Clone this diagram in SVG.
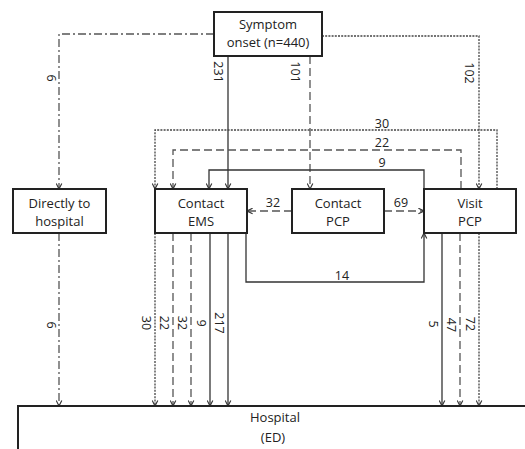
<svg xmlns="http://www.w3.org/2000/svg" width="525" height="449" viewBox="0 0 525 449">
<defs>
<style>
.box{fill:#fff;stroke:#222;stroke-width:2}
.t{font-family:"Open Sans","Noto Sans",sans-serif;font-size:13px;fill:#222;text-anchor:middle}
.n{font-family:"Open Sans","Noto Sans",sans-serif;font-size:12.5px;fill:#222;text-anchor:middle}
.c{fill:none;stroke:#333;stroke-width:1.3}
.solid{}
.dash{stroke:#555;stroke-dasharray:8,4}
.dot{stroke:#444;stroke-dasharray:2,1.2}
.dd{stroke:#555;stroke-dasharray:8,3,2,3}
</style>
<marker id="a" viewBox="0 0 10 10" refX="9" refY="5" markerWidth="7" markerHeight="7" markerUnits="userSpaceOnUse" orient="auto">
<path d="M1,1 L9,5 L1,9" fill="none" stroke="#333" stroke-width="1.6"/>
</marker>
</defs>
<rect width="525" height="449" fill="#fff"/>
<g id="connectors">
<path class="c dd" d="M214,34 H59 V189" marker-end="url(#a)"/>
<path class="c solid" d="M228,56 V189" marker-end="url(#a)"/>
<path class="c dash" d="M310,56 V189" marker-end="url(#a)"/>
<path class="c dot" d="M322,36 H479 V189" marker-end="url(#a)"/>
<path class="c dot" d="M497,189 V130 H155 V189" marker-end="url(#a)"/>
<path class="c dash" d="M461,189 V150 H173 V189" marker-end="url(#a)"/>
<path class="c solid" d="M424,189 V170 H209 V189" marker-end="url(#a)"/>
<path class="c dash" d="M292,211 H247" marker-end="url(#a)"/>
<path class="c dash" d="M384,211 H424" marker-end="url(#a)"/>
<path class="c solid" d="M246,233 V282 H424 V233" marker-end="url(#a)"/>
<path class="c dd" d="M59,233 V406" marker-end="url(#a)"/>
<path class="c dot" d="M155,233 V406" marker-end="url(#a)"/>
<path class="c dash" d="M173,233 V406" marker-end="url(#a)"/>
<path class="c dash" d="M191,233 V406" marker-end="url(#a)"/>
<path class="c solid" d="M210,233 V406" marker-end="url(#a)"/>
<path class="c solid" d="M228,233 V406" marker-end="url(#a)"/>
<path class="c solid" d="M442,233 V406" marker-end="url(#a)"/>
<path class="c dash" d="M460,233 V406" marker-end="url(#a)"/>
<path class="c dot" d="M479,233 V406" marker-end="url(#a)"/>
<text class="n" transform="translate(47,78) rotate(90)">6</text>
<text class="n" transform="translate(214,72) rotate(90)">231</text>
<text class="n" transform="translate(291,72) rotate(90)">101</text>
<text class="n" transform="translate(465,73) rotate(90)">102</text>
<text class="n" x="382" y="128">30</text>
<text class="n" x="382" y="147">22</text>
<text class="n" x="382" y="167">9</text>
<text class="n" x="273" y="207">32</text>
<text class="n" x="401" y="207">69</text>
<text class="n" x="342" y="280">14</text>
<text class="n" transform="translate(47,325) rotate(90)">6</text>
<text class="n" transform="translate(142,323) rotate(90)">30</text>
<text class="n" transform="translate(160,323) rotate(90)">22</text>
<text class="n" transform="translate(178,323) rotate(90)">32</text>
<text class="n" transform="translate(197,323) rotate(90)">9</text>
<text class="n" transform="translate(215,323) rotate(90)">217</text>
<text class="n" transform="translate(429,324) rotate(90)">5</text>
<text class="n" transform="translate(447,325) rotate(90)">47</text>
<text class="n" transform="translate(466,324) rotate(90)">72</text>
</g>
<g id="onset">
<rect class="box" x="214" y="12" width="108" height="44"/>
<text class="t" x="268" y="29">Symptom</text>
<text class="t" x="268" y="47">onset (n=440)</text>
</g>
<g id="direct">
<rect class="box" x="13" y="189" width="93" height="44"/>
<text class="t" x="59.5" y="208">Directly to</text>
<text class="t" x="59.5" y="226">hospital</text>
</g>
<g id="ems">
<rect class="box" x="155" y="189" width="92" height="44"/>
<text class="t" x="201" y="208">Contact</text>
<text class="t" x="201" y="226">EMS</text>
</g>
<g id="cpcp">
<rect class="box" x="292" y="189" width="92" height="44"/>
<text class="t" x="338" y="208">Contact</text>
<text class="t" x="338" y="226">PCP</text>
</g>
<g id="vpcp">
<rect class="box" x="424" y="189" width="92" height="44"/>
<text class="t" x="470" y="208">Visit</text>
<text class="t" x="470" y="226">PCP</text>
</g>
<g id="hospital">
<rect class="box" x="18" y="406" width="520" height="60"/>
<text class="t" x="275" y="422">Hospital</text>
<text class="t" x="273" y="442">(ED)</text>
</g>
</svg>
